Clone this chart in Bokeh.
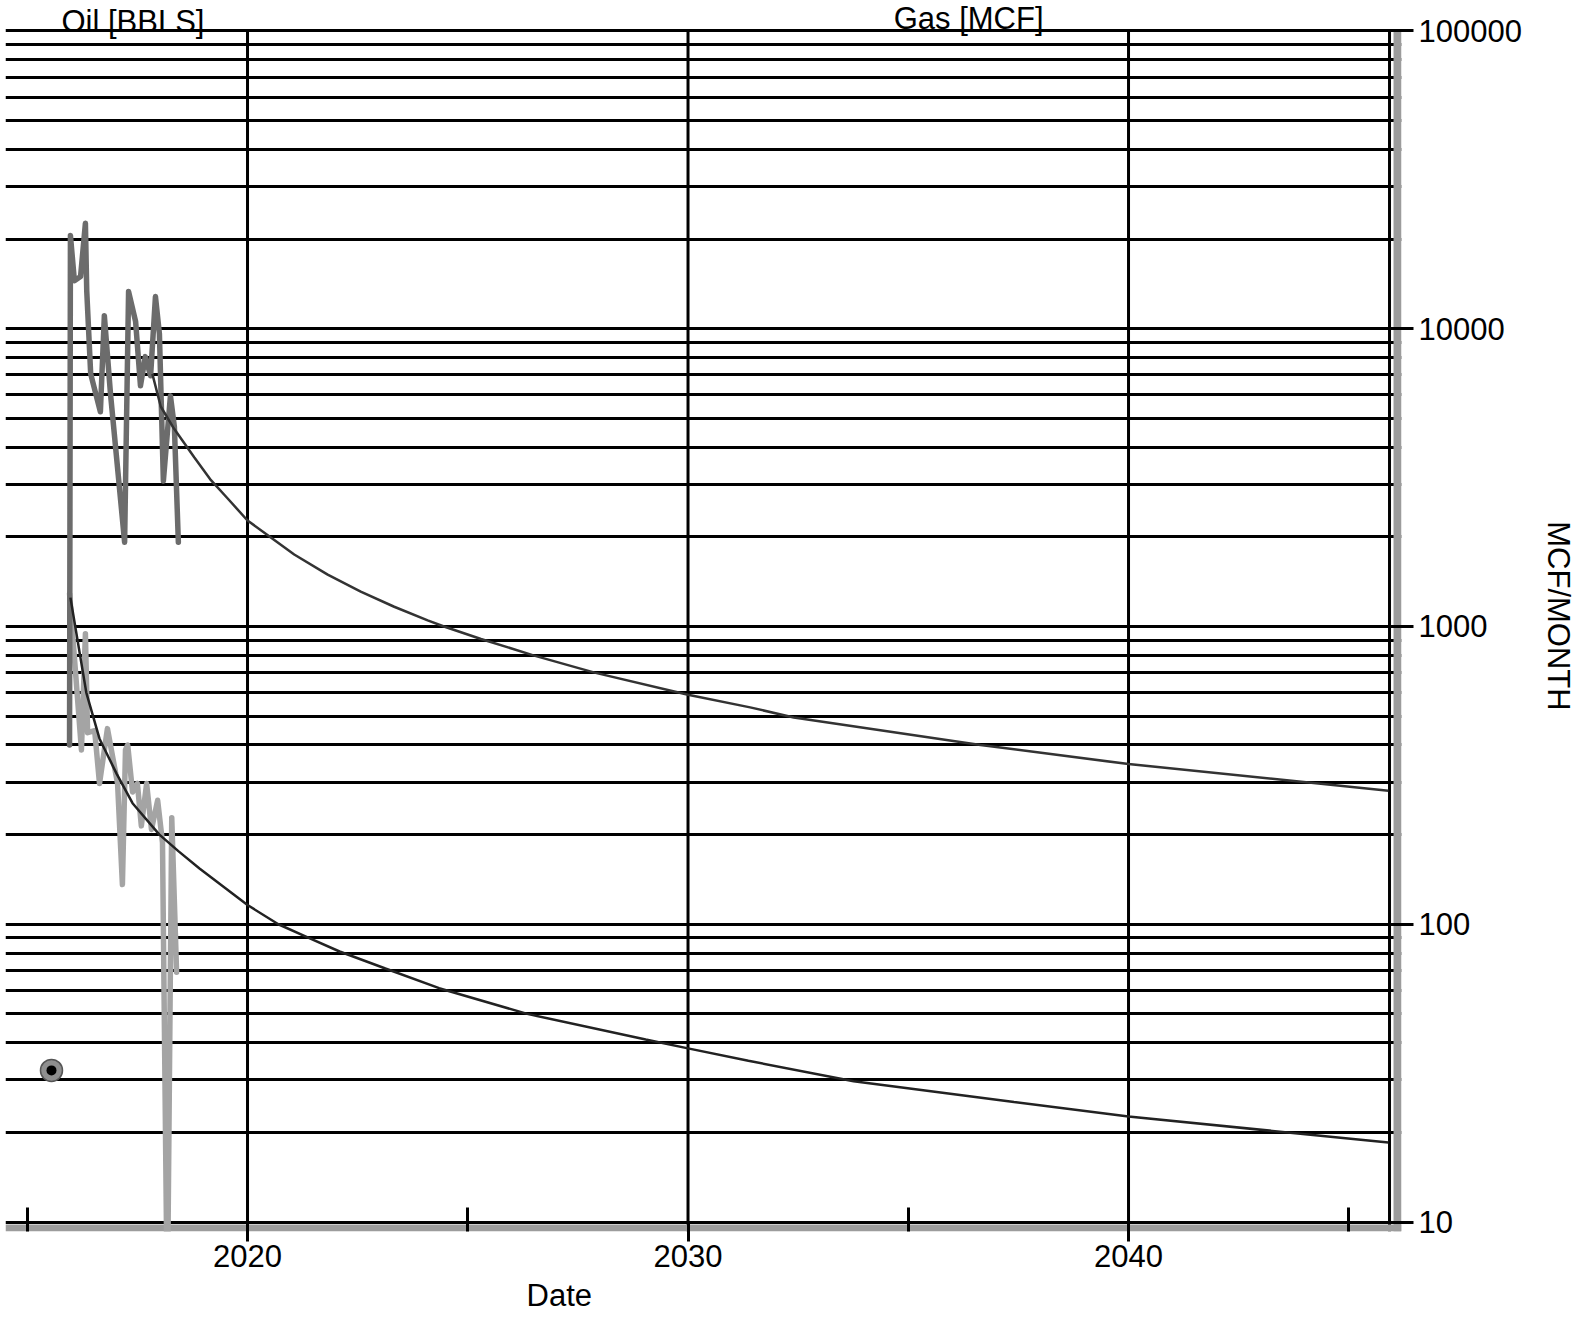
from bokeh.plotting import figure
from bokeh.models import Range1d, FixedTicker, NumeralTickFormatter, Label, BoxAnnotation, Title
from bokeh.embed import file_html
from bokeh.resources import INLINE

# ---------------- data ----------------
gas_years = [2015.96, 2015.98, 2016.07, 2016.21, 2016.32, 2016.35, 2016.44, 2016.66, 2016.75,
             2016.89, 2017.21, 2017.30, 2017.46, 2017.57, 2017.68, 2017.80, 2017.91, 2018.00,
             2018.09, 2018.25, 2018.34, 2018.43]
gas_values = [400, 20560, 14500, 14970, 22600, 13430, 7050, 5260, 11060,
              6040, 1920, 13330, 10560, 6430, 8060, 6950, 12820, 9620,
              3080, 5950, 4680, 1920]

oil_years = [2015.96, 2016.23, 2016.32, 2016.37, 2016.53, 2016.64, 2016.82, 2017.05, 2017.16,
             2017.23, 2017.28, 2017.39, 2017.50, 2017.59, 2017.71, 2017.82, 2017.96, 2018.07,
             2018.18, 2018.28, 2018.39]
oil_values = [1290, 385, 946, 440, 447, 297, 454, 297, 136,
              385, 400, 278, 297, 214, 297, 208, 261, 188,
              5, 228, 69]

gas_fc_years = [2017.84, 2018.03, 2018.33, 2018.79, 2019.17, 2019.55, 2020.00, 2020.53, 2021.06,
                2021.82, 2022.57, 2023.33, 2024.09, 2024.46, 2025.30, 2026.49, 2027.88, 2030.00,
                2031.41, 2032.40, 2036.64, 2040.00, 2045.90]
gas_fc_values = [7050, 5480, 4620, 3700, 3100, 2690, 2270, 1990, 1745,
                 1493, 1309, 1165, 1048, 1000, 908, 800, 700, 590,
                 535, 495, 400, 345, 281]

oil_fc_years = [2015.98, 2016.34, 2016.64, 2017.03, 2017.39, 2018.00, 2018.43, 2018.91, 2020.00,
                2020.70, 2021.39, 2022.09, 2023.13, 2024.35, 2026.35, 2029.04, 2030.00, 2031.37,
                2033.76, 2037.40, 2040.00, 2045.90]
oil_fc_values = [1250, 600, 420, 320, 255, 200, 176, 154, 116,
                 100, 90, 81, 71, 61, 50, 41, 38.3, 34.8,
                 29.7, 25.3, 22.6, 18.5]

marker_years = [2015.55]
marker_values = [32.3]

x_major_ticks = [2020, 2030, 2040]
x_minor_ticks = [2015, 2025, 2035, 2045]
y_major_ticks = [10, 100, 1000, 10000, 100000]
y_minor_ticks = [m * 10 ** k for k in range(1, 5) for m in range(2, 10)]

# ---------------- figure ----------------
FONT = "Liberation Sans"
FS = "31px"
X0, X1 = 2014.506, 2046.197
Y0, Y1 = 9.293, 126570.0
Y_TOP = y_major_ticks[-1]

p = figure(width=1581, height=1318,
           x_range=Range1d(X0, X1), y_range=Range1d(Y0, Y1),
           y_axis_type="log", y_axis_location="right",
           output_backend="svg", toolbar_location=None,
           min_border_left=5, min_border_top=0, min_border_bottom=85, min_border_right=180)
p.outline_line_color = None
p.background_fill_color = "white"
p.border_fill_color = "white"

# grid (horizontal from the grid, vertical drawn up to the top decade line)
p.xgrid.visible = False
p.ygrid.ticker = FixedTicker(ticks=y_major_ticks, minor_ticks=y_minor_ticks)
p.ygrid.grid_line_color = "black"
p.ygrid.grid_line_width = 3
p.ygrid.minor_grid_line_color = "black"
p.ygrid.minor_grid_line_width = 3
p.segment(x0=x_major_ticks, y0=[Y0] * len(x_major_ticks), x1=x_major_ticks,
          y1=[Y_TOP] * len(x_major_ticks), line_color="black", line_width=3, level="underlay")

# bottom axis
xa = p.xaxis[0]
xa.ticker = FixedTicker(ticks=x_major_ticks, minor_ticks=x_minor_ticks)
xa.axis_line_color = None
xa.major_tick_in = 10
xa.major_tick_out = 10
xa.major_tick_line_width = 3
xa.major_tick_line_color = "black"
xa.minor_tick_in = 24
xa.minor_tick_out = 0
xa.minor_tick_line_width = 3
xa.minor_tick_line_color = "black"
xa.major_label_text_font = FONT
xa.major_label_text_font_size = FS
xa.major_label_text_color = "black"
xa.major_label_text_line_height = 1.0
xa.major_label_standoff = 3

# right axis
ya = p.yaxis[0]
ya.ticker = FixedTicker(ticks=y_major_ticks)
ya.formatter = NumeralTickFormatter(format="0")
ya.axis_line_color = None
ya.major_tick_in = 11
ya.major_tick_out = 12
ya.major_tick_line_width = 3
ya.major_tick_line_color = "black"
ya.minor_tick_line_color = None
ya.major_label_text_font = FONT
ya.major_label_text_font_size = FS
ya.major_label_text_color = "black"
ya.major_label_standoff = 5
ya.axis_label = "MCF/MONTH"
ya.axis_label_text_font = FONT
ya.axis_label_text_font_size = FS
ya.axis_label_text_font_style = "normal"
ya.axis_label_text_color = "black"
ya.axis_label_standoff = 16

# frame decoration: grey shadow bands and black right edge
GRAY = "#9c9c9c"
p.add_layout(BoxAnnotation(left=2046.016, top=Y_TOP, fill_color=GRAY, fill_alpha=1.0,
                           line_color=None, level="underlay"))
p.add_layout(BoxAnnotation(top=9.809, fill_color=GRAY, fill_alpha=1.0,
                           line_color=None, level="underlay"))
p.segment(x0=[2045.925], y0=[Y0], x1=[2045.925], y1=[Y_TOP], line_color="black",
          line_width=3, level="underlay")

# data
p.line(oil_years, oil_values, line_color="#a4a4a4", line_width=5.5, line_join="round", line_cap="round")
p.line(gas_years, gas_values, line_color="#6c6c6c", line_width=5.5, line_join="round", line_cap="round")
p.line(gas_fc_years, gas_fc_values, line_color="#333333", line_width=2.5)
p.line(oil_fc_years, oil_fc_values, line_color="#222222", line_width=2.5)
p.scatter(marker_years, marker_values, size=22, fill_color="#8e8e8e", line_color="#555555", line_width=1.5)
p.scatter(marker_years, marker_values, size=10, fill_color="black", line_color=None)

# texts
for tx, xx, yy in [("Oil [BBLS]", 2017.40, 108000), ("Gas [MCF]", 2036.37, 110000)]:
    p.add_layout(Label(x=xx, y=yy, text=tx, text_font=FONT, text_font_size=FS,
                       text_color="black", text_align="center", text_baseline="alphabetic"))

p.add_layout(Title(text="Date", align="left", offset=521, standoff=12, text_font=FONT,
                   text_font_size=FS, text_font_style="normal", text_color="black",
                   text_line_height=1.0), "below")

open("out.html", "w").write(file_html(p, INLINE))
